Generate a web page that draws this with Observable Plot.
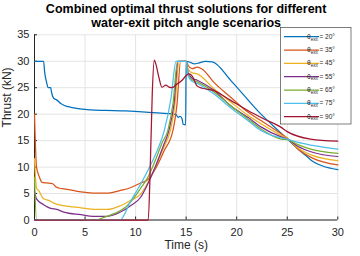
<!DOCTYPE html>
<html><head><meta charset="utf-8">
<script src="https://cdn.jsdelivr.net/npm/d3@7"></script>
<script src="https://cdn.jsdelivr.net/npm/@observablehq/plot@0.6"></script>
<style>body{margin:0;background:#fff}#c{position:relative;width:360px;height:256px}</style>
</head><body><div id="c"></div>
<script>
const angles = [20, 35, 45, 55, 65, 75, 90];
const colors = ["#0072BD", "#D95319", "#EDB120", "#7E2F8E", "#77AC30", "#4DBEEE", "#A2142F"];

const t20 = [0,0.9,1.0,1.2,1.35,1.6,1.7,1.9,2.2,2.6,3.0,3.6,4.5,5.5,7,9,11,12.5,13.5,14.0,14.2,14.4,14.6,14.7,14.95,15.0,15.4,15.8,16.3,16.9,17.6,19.4,22.4,24.4,25,26,27,27.5,28.5,30];
const f20 = [30,30,28,26,25,25,24,23,22.7,22,21.6,21.3,21,20.8,20.7,20.6,20.4,20.2,20.1,19.9,19.4,19.6,19.1,18.1,18,30,29.8,29.5,29.7,30,29.9,26.4,20.0,16.4,15.3,13.5,11.9,11.1,10.2,9.5];

const t35 = [0,0.2,0.45,0.75,1.2,1.75,2.1,2.5,2.9,3.8,4.6,5.8,7.3,8.5,9.5,10.5,11.2,12,12.8,13.7,14.1,14.45,15.0,15.2,15.6,16.1,16.6,17.75,19.4,21.1,22.4,24.4,25,26,27.5,30];
const f35 = [20,10,8.3,7.1,7.0,6.9,6.3,6.0,5.9,5.6,5.3,5.1,5.1,5.6,6.1,7.0,7.6,9.8,13,17,22,30,30,29.2,28.6,28.9,28.5,26.0,23.2,20.4,18.8,16.3,15.5,13.5,11.7,10.4];

const t45 = [0,0.2,0.4,0.9,1.4,1.9,2.9,4.6,5.9,7.2,8.5,9.5,10.5,11.2,12,12.8,13.45,13.9,14.3,15.0,15.2,15.6,16.1,17.75,19.4,21.1,22.4,24.4,25,26,27.5,30];
const f45 = [11.6,6.0,5.6,4.0,3.7,3.2,2.7,2.3,2.0,2.0,2.7,3.7,4.9,7.0,10.2,13.8,17,22,30,30,28.5,27.8,27.6,24.8,22.3,19.8,18.2,16.0,15.4,13.7,12.2,11.2];

const t55 = [0,0.2,0.9,1.6,2.2,2.9,4.6,5.8,7.2,8.5,9.5,10.5,11.2,12,12.7,13.3,13.8,14.2,15.0,15.2,15.6,16.1,17.75,19.4,21.1,22.4,24.4,25,26,27.5,30];
const f55 = [5.3,4.0,2.9,2.2,2.0,1.5,1.0,0.7,0.7,1.5,2.7,4.3,6.8,10.3,13.8,17,22,30,30,27.8,26.8,26.4,24.5,21.6,19.4,17.6,15.7,15.3,14.0,12.8,12.0];

const t65 = [0,0.2,6.0,7,8,9,10,10.5,11.2,12,12.6,13.2,13.7,14.15,15.0,15.2,15.6,16.1,17.75,19.4,21.1,22.4,24.4,25,26,27.5,30];
const f65 = [8.1,0,0,0.6,1.3,2.4,4.6,6.0,8.0,11.5,14.5,17,22,30,30,27.5,26.5,26.1,24.2,21.6,19.1,17.2,15.3,15.2,14.3,13.3,12.6];

const t75 = [0,8.45,9.5,10.5,11.2,12,12.85,13.5,14.0,15.0,15.2,15.6,16.1,17.75,19.4,21.1,22.4,24.4,25,26,27.5,30];
const f75 = [0,0,3.5,6.8,9.3,12.5,17,23,30,30,27.2,26.2,25.8,23.8,21.2,18.8,16.9,15.5,15.3,14.7,14.1,13.4];

const t90 = [0,11.25,11.45,11.65,11.85,12.0,12.3,12.6,13.0,13.3,13.6,14.1,14.6,15.0,15.3,15.6,16.1,16.6,17.7,19.4,21.1,22.7,24.4,25,27.3,30];
const f90 = [0,0,10,24,30.2,29.5,27,25.1,25.5,25.1,25.0,25.7,26.4,27.3,27.6,27.2,25.3,24.9,24.5,22.6,20.7,19.1,17.5,16.7,15.3,14.9];

const xTicks = [0, 5, 10, 15, 20, 25, 30];
const yTicks = [0, 5, 10, 15, 20, 25, 30, 35];
const titleLines = ["Combined optimal thrust solutions for different", "water-exit pitch angle scenarios"];

const series = [[t20,f20],[t35,f35],[t45,f45],[t55,f55],[t65,f65],[t75,f75],[t90,f90]];
const data = series.flatMap(([t, f], i) => t.map((x, j) => ({t: x, f: f[j], a: angles[i]})));

const ink = "#262626";
const plot = Plot.plot({
  width: 360, height: 256,
  marginLeft: 34, marginRight: 22.7, marginTop: 34.3, marginBottom: 36.5,
  style: {fontFamily: "'Liberation Sans', Arial, sans-serif", fontSize: "11px", color: ink, background: "#fff"},
  x: {domain: [0, 30]},
  y: {domain: [0, 35]},
  color: {domain: angles, range: colors},
  marks: [
    Plot.gridX(xTicks, {stroke: "#e4e4e4", strokeOpacity: 1}),
    Plot.gridY(yTicks, {stroke: "#e4e4e4", strokeOpacity: 1}),
    Plot.ruleX([0], {stroke: ink}),
    Plot.ruleY([0], {stroke: ink}),
    Plot.axisX(xTicks, {tickSize: -3, text: null, stroke: ink, label: null}),
    Plot.axisY(yTicks, {tickSize: -3, text: null, stroke: ink, label: null}),
    Plot.axisX(xTicks, {tickSize: 0, tickPadding: 8.5, fontSize: 11, fill: ink, label: null}),
    Plot.axisY(yTicks, {tickSize: 0, tickPadding: 5, fontSize: 11, fill: ink, label: null}),
    Plot.line(data, {x: "t", y: "f", z: "a", stroke: "a", strokeWidth: 1.25, curve: "monotone-x"}),
    Plot.text(["Time (s)"], {frameAnchor: "bottom", dy: 29, fontSize: 12, fill: ink}),
    Plot.text(["Thrust (kN)"], {frameAnchor: "left", dx: -27, rotate: -90, fontSize: 12, fill: ink}),
    Plot.text([titleLines[0]], {frameAnchor: "top", lineAnchor: "bottom", dy: -21.8, fontSize: 12.5, fontWeight: "bold", fill: "#000"}),
    Plot.text([titleLines[1]], {frameAnchor: "top", lineAnchor: "bottom", dy: -7.8, fontSize: 12.5, fontWeight: "bold", fill: "#000"})
  ]
});
document.getElementById("c").appendChild(plot);

// legend
const svg = d3.select(plot);
const lg = svg.append("g").attr("font-family", "'Liberation Sans', Arial, sans-serif");
lg.append("rect").attr("x", 280.5).attr("y", 27.5).attr("width", 70.5).attr("height", 96.5)
  .attr("fill", "#fff").attr("stroke", ink).attr("stroke-width", 0.6);
angles.forEach((a, i) => {
  const y = 36.7 + i * 13.33;
  lg.append("line").attr("x1", 284).attr("x2", 319).attr("y1", y).attr("y2", y)
    .attr("stroke", colors[i]).attr("stroke-width", 1.25);
  const tx = lg.append("text").attr("x", 321).attr("y", y + 2).attr("font-size", 6.5).attr("fill", ink);
  tx.append("tspan").text("θ");
  tx.append("tspan").attr("font-size", 4.5).attr("dy", 1.8).text("exit");
  tx.append("tspan").attr("dy", -1.8).text(" = " + a + "°");
});
</script></body></html>
